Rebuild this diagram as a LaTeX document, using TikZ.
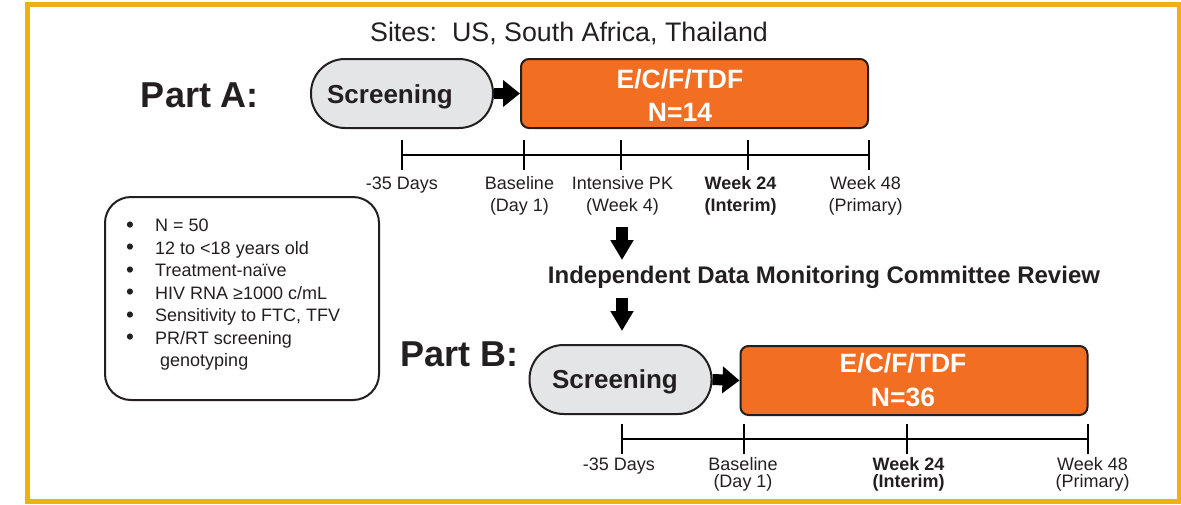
\documentclass[tikz,border=0pt]{standalone}
\usepackage{fontspec}
\setmainfont{Liberation Sans}
\usetikzlibrary{arrows.meta}
\definecolor{gold}{RGB}{237,177,18}
\definecolor{orng}{RGB}{242,110,34}
\definecolor{pillgray}{RGB}{228,229,230}
\definecolor{ink}{RGB}{35,31,32}
\begin{document}
\begin{tikzpicture}[x=1pt,y=-1pt,
  every node/.style={text=ink, inner sep=0pt},
  pill/.style={draw=ink, line width=2pt, fill=pillgray, rounded corners=34pt, minimum width=182pt, minimum height=69pt},
  trt/.style={draw=ink, line width=2pt, fill=orng, rounded corners=8pt, minimum width=347pt, minimum height=69pt},
  infobox/.style={draw=ink, line width=2pt, rounded corners=26pt, minimum width=274pt, minimum height=203pt},
  parttxt/.style={anchor=base, font=\fontsize{36}{40}\selectfont\bfseries},
  scrtxt/.style={anchor=base, font=\fontsize{26}{30}\selectfont\bfseries},
  trttxt/.style={anchor=base, text=white, font=\fontsize{26.5}{30}\selectfont\bfseries},
  lbl/.style={anchor=base, font=\fontsize{18}{22}\selectfont},
  lblb/.style={anchor=base, font=\fontsize{18}{22}\selectfont\bfseries},
  listtxt/.style={anchor=base west, font=\fontsize{18}{22}\selectfont},
  tline/.style={draw=black, line width=2.8pt},
  sidearrow/.style={draw=black, line width=11pt, -{Triangle[width=26pt,length=17pt]}},
  downarrow/.style={draw=black, line width=12pt, -{Triangle[width=22pt,length=20pt]}}
]
\useasboundingbox (0,0) rectangle (1181,504);
\draw[gold, line width=5pt] (27.5,4.5) rectangle (1179.5,501.5);

% title
\node[anchor=base, font=\fontsize{26.8}{30}\selectfont] (sites) at (569,41) {Sites:\ \ US, South Africa, Thailand};

% Part A
\node[parttxt] (partA) at (200,107) {Part A:};
\node[pill] (scrA) at (402,93.5) {};
\node[scrtxt] (scrAt) at (390,103) {Screening};
\node[trt] (trtA) at (694.5,93.5) {};
\node[trttxt] (trtAt1) at (680,88) {E/C/F/TDF};
\node[trttxt] (trtAt2) at (680,121.5) {N=14};
\draw[sidearrow] (scrA.east) -- (trtA.west);

% timeline A
\coordinate (tA1) at (402,155);
\coordinate (tA2) at (524,155);
\coordinate (tA3) at (621,155);
\coordinate (tA4) at (748,155);
\coordinate (tA5) at (869,155);
\draw[tline] (tA1) -- (tA5);
\foreach \c in {tA1,tA2,tA3,tA4,tA5} {\draw[tline] (\c) ++(0,-15) -- ++(0,30);}
\node[lbl] (la1) at (402,189.5) {-35 Days};
\node[lbl] (la2a) at (519.5,189.5) {Baseline};
\node[lbl] (la2b) at (519.5,211.5) {(Day 1)};
\node[lbl] (la3a) at (622.5,189.5) {Intensive PK};
\node[lbl] (la3b) at (622.5,211.5) {(Week 4)};
\node[lblb] (la4a) at (740.5,189.5) {Week 24};
\node[lblb] (la4b) at (740.5,211.5) {(Interim)};
\node[lbl] (la5a) at (865.5,189.5) {Week 48};
\node[lbl] (la5b) at (865.5,211.5) {(Primary)};

% IDMC
\coordinate (d1s) at (622,227);
\coordinate (d1e) at (622,260);
\draw[downarrow] (d1s) -- (d1e);
\node[anchor=base, font=\fontsize{24}{28}\selectfont\bfseries] (idmc) at (824,283) {Independent Data Monitoring Committee Review};
\coordinate (d2s) at (622,298);
\coordinate (d2e) at (622,331);
\draw[downarrow] (d2s) -- (d2e);

% info box
\node[infobox] (info) at (242,298.5) {};
\foreach \t [count=\i] in {{N = 50},{12 to <18 years old},{Treatment-naïve},{HIV RNA ≥1000 c/mL},{Sensitivity to FTC, TFV},{PR/RT screening}} {
  \node[listtxt] (li\i) at (126,{231.5+22.5*(\i-1)}) {\makebox[29pt][l]{\raisebox{-0.6pt}{\scalebox{1.25}{•}}}\t};
}
\node[listtxt] (li7) at (160,366.5) {genotyping};

% Part B
\node[parttxt] (partB) at (459.5,366) {Part B:};
\node[pill] (scrB) at (620.5,379.5) {};
\node[scrtxt] (scrBt) at (615,388) {Screening};
\node[trt] (trtB) at (914,380.5) {};
\node[trttxt] (trtBt1) at (903,372) {E/C/F/TDF};
\node[trttxt] (trtBt2) at (903,406) {N=36};
\draw[sidearrow] (scrB.east) -- (trtB.west);

% timeline B
\coordinate (tB1) at (622,439);
\coordinate (tB2) at (744,439);
\coordinate (tB3) at (907,439);
\coordinate (tB4) at (1088,439);
\draw[tline] (tB1) -- (tB4);
\foreach \c in {tB1,tB2,tB3,tB4} {\draw[tline] (\c) ++(0,-15) -- ++(0,30);}
\node[lbl] (lb1) at (619,470.5) {-35 Days};
\node[lbl] (lb2a) at (743,470.5) {Baseline};
\node[lbl] (lb2b) at (743,487.5) {(Day 1)};
\node[lblb] (lb3a) at (908.5,470.5) {Week 24};
\node[lblb] (lb3b) at (908.5,487.5) {(Interim)};
\node[lbl] (lb4a) at (1092.5,470.5) {Week 48};
\node[lbl] (lb4b) at (1092.5,487.5) {(Primary)};
\end{tikzpicture}
\end{document}
